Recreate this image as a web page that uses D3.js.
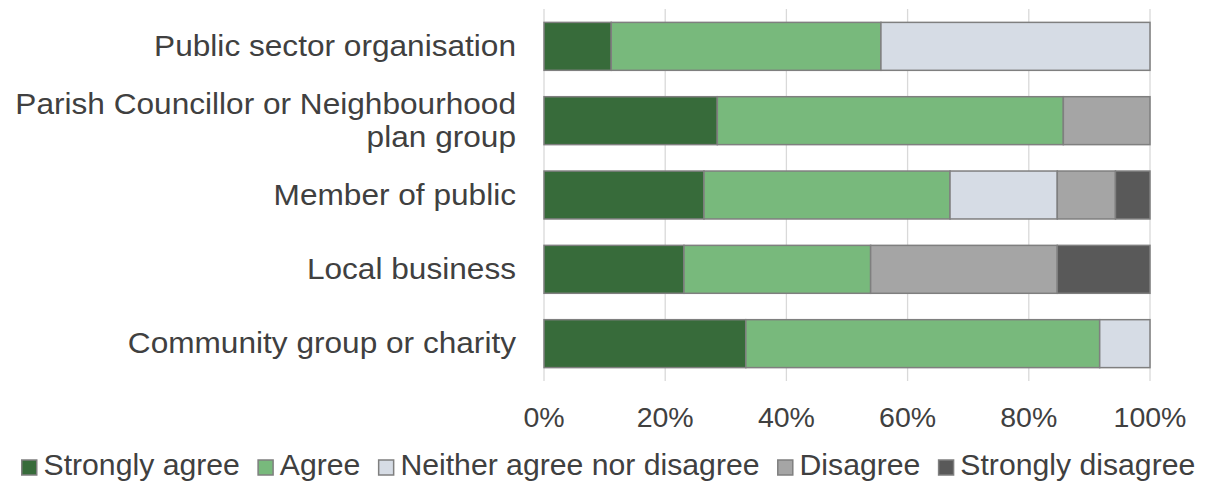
<!DOCTYPE html>
<html>
<head>
<meta charset="utf-8">
<script src="https://cdn.jsdelivr.net/npm/d3@7"></script>
<style>
  html, body { margin: 0; padding: 0; background: #fff; }
  svg { display: block; font-family: "Liberation Sans", Arial, sans-serif; }
</style>
</head>
<body>
<svg id="chart" width="1207" height="481"></svg>
<script>
// Respondent types, top to bottom
const categories = [
  "Public sector organisation",
  "Parish Councillor or Neighbourhood plan group",
  "Member of public",
  "Local business",
  "Community group or charity"
];
// Share of responses (%) per answer, in the same order as categories
const stronglyAgree    = [11.1, 28.6, 26.4, 23.1, 33.3];
const agree            = [44.5, 57.1, 40.6, 30.8, 58.4];
const neither          = [44.4, 0,    17.7, 0,    8.3];
const disagree         = [0,    14.3, 9.6,  30.8, 0];
const stronglyDisagree = [0,    0,    5.7,  15.3, 0];

const seriesNames = ["Strongly agree", "Agree", "Neither agree nor disagree", "Disagree", "Strongly disagree"];
const seriesColors = ["#376b3a", "#78b97c", "#d6dce5", "#a5a5a5", "#595959"];
const tickValues = [0, 20, 40, 60, 80, 100];

// Category labels as wrapped on the axis
const labelLines = [
  ["Public sector organisation"],
  ["Parish Councillor or Neighbourhood", "plan group"],
  ["Member of public"],
  ["Local business"],
  ["Community group or charity"]
];

const rows = categories.map((c, i) => ({
  category: c,
  "Strongly agree": stronglyAgree[i],
  "Agree": agree[i],
  "Neither agree nor disagree": neither[i],
  "Disagree": disagree[i],
  "Strongly disagree": stronglyDisagree[i]
}));

const svg = d3.select("#chart");
const plot = { left: 544, right: 1150, top: 9, bottom: 381 };
const textColor = "#404040";

const x = d3.scaleLinear().domain([0, 100]).range([plot.left, plot.right]);
const y = d3.scaleBand().domain(categories).range([plot.top, plot.bottom]).paddingInner(0.355).paddingOuter(0.18);

// Vertical gridlines
svg.append("g")
  .selectAll("line")
  .data(tickValues)
  .join("line")
  .attr("x1", d => x(d)).attr("x2", d => x(d))
  .attr("y1", plot.top).attr("y2", plot.bottom)
  .attr("stroke", "#d9d9d9")
  .attr("stroke-width", 1.3);

// Stacked bars
const stacked = d3.stack().keys(seriesNames)(rows);
const color = d3.scaleOrdinal().domain(seriesNames).range(seriesColors);

svg.append("g")
  .selectAll("g")
  .data(stacked)
  .join("g")
  .attr("fill", d => color(d.key))
  .selectAll("rect")
  .data(d => d.filter(s => s[1] - s[0] > 0))
  .join("rect")
  .attr("x", d => x(d[0]))
  .attr("width", d => x(d[1]) - x(d[0]))
  .attr("y", d => y(d.data.category))
  .attr("height", y.bandwidth())
  .attr("stroke", "#7f7f7f")
  .attr("stroke-width", 1.5);

// Category labels, right-aligned against the plot
const lineHeight = 33;
svg.append("g")
  .selectAll("text")
  .data(categories)
  .join("text")
  .attr("text-anchor", "end")
  .attr("fill", textColor)
  .attr("font-size", 29)
  .attr("transform", d => `translate(516,${y(d) + y.bandwidth() / 2}) scale(1.09,1)`)
  .each(function(d, i) {
    const lines = labelLines[i];
    const start = -(lines.length - 1) * lineHeight / 2 + 9.5;
    d3.select(this).selectAll("tspan")
      .data(lines)
      .join("tspan")
      .attr("x", 0)
      .attr("dy", (l, j) => j === 0 ? start : lineHeight)
      .text(l => l);
  });

// X axis tick labels
svg.append("g")
  .selectAll("text")
  .data(tickValues)
  .join("text")
  .attr("x", d => x(d))
  .attr("y", 426.5)
  .attr("text-anchor", "middle")
  .attr("fill", textColor)
  .attr("font-size", 28.5)
  .text(d => d + "%");

// Legend along the bottom
const legend = svg.append("g").attr("transform", "translate(21, 475)");
let lx = 0;
seriesNames.forEach((name, i) => {
  const g = legend.append("g").attr("transform", `translate(${lx},0)`);
  g.append("rect")
    .attr("x", 0.75).attr("y", -15)
    .attr("width", 15).attr("height", 15)
    .attr("fill", seriesColors[i])
    .attr("stroke", "#7f7f7f")
    .attr("stroke-width", 1.5);
  const t = g.append("text")
    .attr("x", 22.5)
    .attr("fill", textColor)
    .attr("font-size", 30.2)
    .text(name);
  lx += 22.5 + t.node().getComputedTextLength() + 17.5;
});
</script>
</body>
</html>
